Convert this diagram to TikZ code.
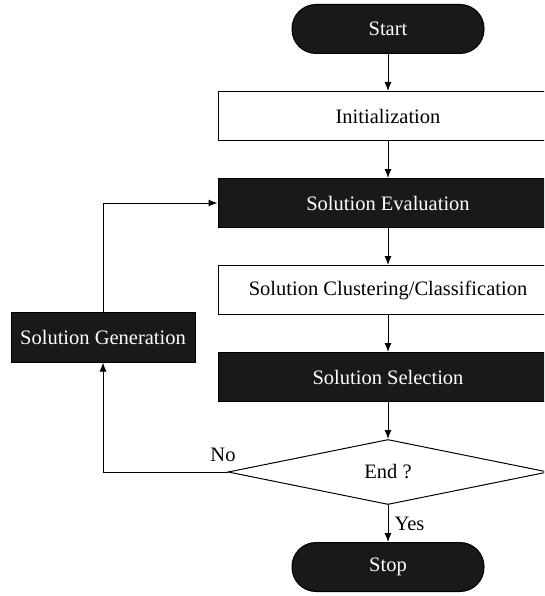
\documentclass[tikz,border=0pt]{standalone}
\usepackage{fontspec}
\setmainfont{Liberation Serif}
\usetikzlibrary{positioning}
\usetikzlibrary{shapes.geometric}
\usetikzlibrary{arrows.meta}

\tikzset{
  base/.style={draw=black, line width=1pt, font=\fontsize{20.5}{23}\selectfont,
    minimum height=49pt, inner sep=0pt},
  term/.style={base, fill=black!90, text=white, rounded corners=24pt, minimum width=192pt},
  whitebox/.style={base, fill=white, minimum width=340pt},
  darkbox/.style={base, fill=black!90, text=white, minimum width=340pt},
  decision/.style={draw=black, line width=1pt, diamond, fill=white, inner sep=0pt,
    minimum width=320pt, minimum height=65pt, font=\fontsize{20.5}{23}\selectfont},
  link/.style={draw=black, line width=1pt, -{Latex[length=9pt,width=7pt]}},
  lbl/.style={font=\fontsize{20.5}{23}\selectfont, inner sep=0pt}
}

\begin{document}
\begin{tikzpicture}[x=1pt, y=-1pt, node distance=37pt]
  \useasboundingbox (0,0) rectangle (544,596);
  \clip (0,0) rectangle (544,596);

  \node [term] (start) at (388,29) {Start};
  \node [whitebox, below=of start] (init) {Initialization};
  \node [darkbox, below=of init] (eval) {Solution Evaluation};
  \node [whitebox, below=of eval] (clust) {Solution Clustering/Classification};
  \node [darkbox, below=of clust] (sel) {Solution Selection};
  \node [decision, below=of sel] (dec) {End ?};
  \node [term, below=of dec] (stop) {Stop};
  \node [darkbox, minimum width=184pt, minimum height=50pt] (gen) at (103,337) {Solution Generation};

  \draw [link] (start) -- (init);
  \draw [link] (init) -- (eval);
  \draw [link] (eval) -- (clust);
  \draw [link] (clust) -- (sel);
  \draw [link] (sel) -- (dec);
  \draw [link] (dec) -- node [lbl, right=6pt] (yes) {Yes} (stop);
  \draw [link] (dec.west) -| (gen.south);
  \draw [link] (gen.north) |- (eval.west);

  \node [lbl] (no) at (223,455) {No};
\end{tikzpicture}
\end{document}
